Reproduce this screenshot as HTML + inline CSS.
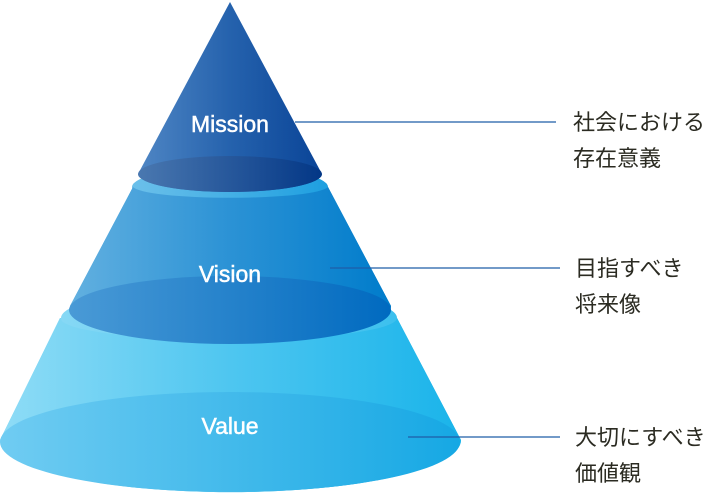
<!DOCTYPE html>
<html><head><meta charset="utf-8"><style>
html,body{margin:0;padding:0;background:#fff;width:724px;height:494px;overflow:hidden}
</style></head><body>
<svg width="724" height="494" viewBox="0 0 724 494" xmlns="http://www.w3.org/2000/svg">
<defs>
<linearGradient id="m" x1="0" x2="1"><stop offset="0" stop-color="#4f86c4"/><stop offset="0.5" stop-color="#2562ad"/><stop offset="1" stop-color="#0a4497"/></linearGradient>
<linearGradient id="me" x1="0" x2="1"><stop offset="0" stop-color="#4a78b0"/><stop offset="1" stop-color="#033786"/></linearGradient>
<linearGradient id="v" x1="0" x2="1"><stop offset="0" stop-color="#62b0e0"/><stop offset="0.5" stop-color="#2b92d5"/><stop offset="1" stop-color="#007ccb"/></linearGradient>
<linearGradient id="vt" x1="0" x2="1"><stop offset="0" stop-color="#6cc0ea"/><stop offset="1" stop-color="#1d9fe0"/></linearGradient>
<linearGradient id="ve" x1="0" x2="1"><stop offset="0" stop-color="#4a9ad6"/><stop offset="1" stop-color="#006ac0"/></linearGradient>
<linearGradient id="a" x1="0" x2="1"><stop offset="0" stop-color="#8fdcf6"/><stop offset="0.5" stop-color="#4ec6f0"/><stop offset="1" stop-color="#1ab4ea"/></linearGradient>
<linearGradient id="at" x1="0" x2="1"><stop offset="0" stop-color="#86d8f5"/><stop offset="1" stop-color="#3cc0ee"/></linearGradient>
<linearGradient id="ae" x1="0" x2="1"><stop offset="0" stop-color="#70ccf2"/><stop offset="1" stop-color="#16a8e4"/></linearGradient>
</defs>
<path d="M60 318 L0 440 A230 52 0 0 0 461 440 L397 318 Z" fill="url(#a)"/>
<ellipse cx="229" cy="318" rx="168" ry="30" fill="url(#at)"/>
<path d="M60 318 L0 440 A230 52 0 0 0 461 440 L397 318 A168 22 0 0 1 60 318 Z" fill="url(#a)"/>
<ellipse cx="230" cy="442" rx="230" ry="50" fill="url(#ae)"/>
<path d="M133 187 L70 306 A160 36 0 0 0 391 306 L328 187 Z" fill="url(#v)"/>
<ellipse cx="230" cy="187" rx="98" ry="20" fill="url(#vt)"/>
<path d="M133 187 L70 306 A160 36 0 0 0 391 306 L328 187 A98 12 0 0 1 133 187 Z" fill="url(#v)"/>
<ellipse cx="230" cy="310" rx="161" ry="34" fill="url(#ve)"/>
<path d="M230 2 L138 174 A92 18 0 0 0 322 174 Z" fill="url(#m)"/>
<ellipse cx="230" cy="174" rx="92" ry="18" fill="url(#me)"/>
<g font-family="'Liberation Sans', sans-serif" font-size="23" fill="#fff" stroke="#fff" stroke-width="0.5" text-anchor="middle">
<text x="230" y="132">Mission</text>
<text x="230" y="282">Vision</text>
<text x="230" y="434">Value</text>
</g>
<g stroke="#1f5da8" stroke-width="1.3">
<line x1="295" y1="122" x2="556" y2="122"/>
<line x1="330" y1="268" x2="560" y2="268"/>
<line x1="408" y1="437" x2="560" y2="437"/>
</g>
<g font-family="Liberation Sans, 'Noto Sans CJK JP', sans-serif" font-size="22" fill="#2b2b22">
<text x="573" y="130">社会における</text>
<text x="573" y="166">存在意義</text>
<text x="575" y="276">目指すべき</text>
<text x="575" y="312">将来像</text>
<text x="575" y="445">大切にすべき</text>
<text x="575" y="481">価値観</text>
</g>
</svg>
</body></html>
